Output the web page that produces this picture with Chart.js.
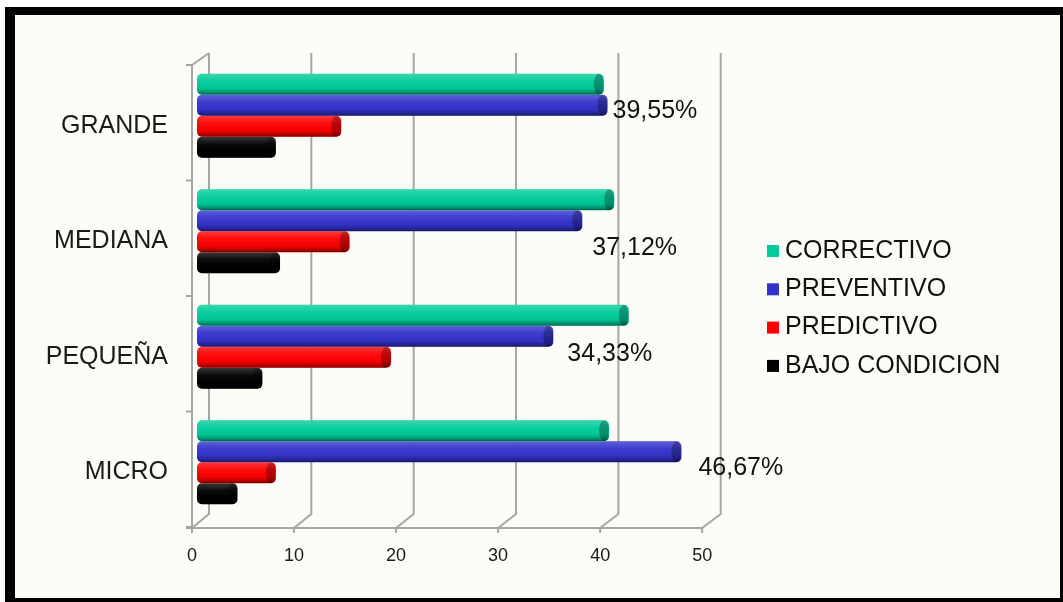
<!DOCTYPE html>
<html>
<head>
<meta charset="utf-8">
<title>Tipo de mantenimiento por tamaño de empresa</title>
<script src="https://cdn.jsdelivr.net/npm/chart.js@4.4.1/dist/chart.umd.min.js"></script>
<style>
    html, body { margin: 0; padding: 0; background: #ffffff; }
    canvas { display: block; }
</style>
</head>
<body>
<canvas id="barChart" width="1063" height="602"></canvas>
<script>
// Data: share of each maintenance type (%) per company size
const categories = ['GRANDE', 'MEDIANA', 'PEQUEÑA', 'MICRO'];
const seriesNames = ['CORRECTIVO', 'PREVENTIVO', 'PREDICTIVO', 'BAJO CONDICION'];
const correctivo = [39.2, 40.2, 41.6, 39.7];
const preventivo = [39.55, 37.12, 34.33, 46.67];
const predictivo = [13.9, 14.7, 18.7, 7.6];
const bajoCondicion = [7.6, 8.0, 6.3, 3.9];
const xTicks = [0, 10, 20, 30, 40, 50];

const seriesColors = ['#00cc99', '#3333cc', '#ff0000', '#000000'];
const FONT = "'Liberation Sans', Arial, sans-serif";

// where the percentage label sits relative to the end of the PREVENTIVO bar
const labelOffsetX = [5, 10, 14, 17];
const labelOffsetY = [6, 27, 18, 16];

// bars are drawn half way into the box; front and back planes are shifted from them
function frontX(area, px) { return area.left - 5 + (px - area.left) * 0.983; }
function backX(area, px) { return area.left + 12 + (px - area.left) * 0.986; }

function formatPct(v) {
    return v.toFixed(2).replace('.', ',') + '%';
}

// frame, back wall, floor and axes
const box3d = {
    id: 'box3d',
    beforeDraw(chart) {
        const c = chart.ctx;
        const a = chart.chartArea;
        const xs = chart.scales.x;
        const ys = chart.scales.y;
        c.save();
        c.fillStyle = '#ffffff';
        c.fillRect(0, 0, chart.width, chart.height);
        c.fillStyle = '#000000';
        c.fillRect(5, 7, 1058, 595);
        c.fillStyle = '#fdfdf7';
        c.fillRect(15, 15, 1045, 583);

        const backTop = a.top - 5;
        const backBottom = a.bottom - 6;
        const frontTop = a.top + 7;
        const floorY = a.bottom + 8;
        const fx0 = frontX(a, a.left);

        c.strokeStyle = '#a6a6a6';
        c.lineWidth = 2;
        c.lineJoin = 'round';

        // vertical gridlines on the back wall, running down into the floor
        xTicks.forEach(v => {
            const px = xs.getPixelForValue(v);
            const bx = backX(a, px);
            const fx = frontX(a, px);
            c.beginPath();
            c.moveTo(bx, backTop);
            c.lineTo(bx, backBottom);
            c.lineTo(fx, floorY);
            c.lineTo(fx, floorY + 5);
            c.stroke();
        });

        // front edge of the floor
        c.beginPath();
        c.moveTo(fx0 - 6, floorY);
        c.lineTo(frontX(a, xs.getPixelForValue(50)), floorY);
        c.stroke();

        // side wall: top edge and front axis
        c.beginPath();
        c.moveTo(backX(a, a.left), backTop);
        c.lineTo(fx0, frontTop);
        c.lineTo(fx0, floorY);
        c.stroke();

        // category ticks on the front axis
        const band = (a.bottom - a.top) / categories.length;
        for (let k = 0; k <= categories.length; k++) {
            const ty = a.top + k * band + 7;
            c.beginPath();
            c.moveTo(fx0 - 6, ty);
            c.lineTo(fx0, ty);
            c.stroke();
        }

        // value axis tick labels
        c.fillStyle = '#1a1a1a';
        c.font = '18px ' + FONT;
        c.textAlign = 'center';
        c.textBaseline = 'middle';
        xTicks.forEach(v => {
            c.fillText(String(v), frontX(a, xs.getPixelForValue(v)), 556);
        });

        // category labels
        c.font = '25px ' + FONT;
        c.textAlign = 'right';
        categories.forEach((name, i) => {
            c.fillText(name, fx0 - 24, ys.getPixelForValue(i) + 10);
        });
        c.restore();
    }
};

// cylinder shading on top of the flat bars
const cylinders = {
    id: 'cylinders',
    afterDatasetsDraw(chart) {
        const c = chart.ctx;
        chart.data.datasets.forEach((ds, di) => {
            const meta = chart.getDatasetMeta(di);
            meta.data.forEach(el => {
                const p = el.getProps(['x', 'y', 'base', 'height'], true);
                const left = Math.min(p.base, p.x);
                const right = Math.max(p.base, p.x);
                const top = p.y - p.height / 2;
                const h = p.height;
                c.save();
                c.beginPath();
                c.roundRect(left, top, right - left, h, 5);
                c.clip();
                const g = c.createLinearGradient(0, top, 0, top + h);
                g.addColorStop(0, 'rgba(255,255,255,0.22)');
                g.addColorStop(0.35, 'rgba(255,255,255,0.05)');
                g.addColorStop(0.7, 'rgba(0,0,0,0.04)');
                g.addColorStop(0.88, 'rgba(0,0,0,0.28)');
                g.addColorStop(1, 'rgba(0,0,0,0.55)');
                c.fillStyle = g;
                c.fillRect(left, top, right - left, h);
                // end face of the cylinder
                c.beginPath();
                c.ellipse(right - 5, p.y, 5, h / 2, 0, 0, Math.PI * 2);
                c.fillStyle = 'rgba(0,0,0,0.28)';
                c.fill();
                c.restore();
            });
        });
    }
};

// percentage labels and legend
const annotations = {
    id: 'annotations',
    afterDraw(chart) {
        const c = chart.ctx;
        c.save();
        c.fillStyle = '#111111';
        c.font = '25px ' + FONT;
        c.textAlign = 'left';
        c.textBaseline = 'middle';

        const meta = chart.getDatasetMeta(1);
        meta.data.forEach((el, i) => {
            const p = el.getProps(['x', 'y'], true);
            c.fillText(formatPct(preventivo[i]), p.x + labelOffsetX[i], p.y + labelOffsetY[i]);
        });

        chart.data.datasets.forEach((ds, i) => {
            const ly = 251 + i * 38.3;
            c.fillStyle = ds.backgroundColor;
            c.fillRect(767, ly - 6, 12, 12);
            c.fillStyle = '#111111';
            c.fillText(ds.label, 785, ly);
        });
        c.restore();
    }
};

document.addEventListener("DOMContentLoaded", function () {
    const seriesValues = [correctivo, preventivo, predictivo, bajoCondicion];
    const ctx = document.getElementById('barChart').getContext('2d');
    new Chart(ctx, {
        type: 'bar',
        data: {
            labels: categories,
            datasets: seriesNames.map((name, i) => ({
                label: name,
                data: seriesValues[i],
                backgroundColor: seriesColors[i],
                borderWidth: 0,
                borderRadius: 5,
                borderSkipped: false,
                barPercentage: 1.0,
                categoryPercentage: 0.727
            }))
        },
        options: {
            indexAxis: 'y',
            responsive: false,
            animation: false,
            layout: {
                padding: { left: 197, right: 347, top: 58, bottom: 82 }
            },
            scales: {
                x: { min: 0, max: 50, display: false },
                y: { display: false }
            },
            plugins: {
                legend: { display: false },
                tooltip: { enabled: false }
            }
        },
        plugins: [box3d, cylinders, annotations]
    });
});
</script>
</body>
</html>
